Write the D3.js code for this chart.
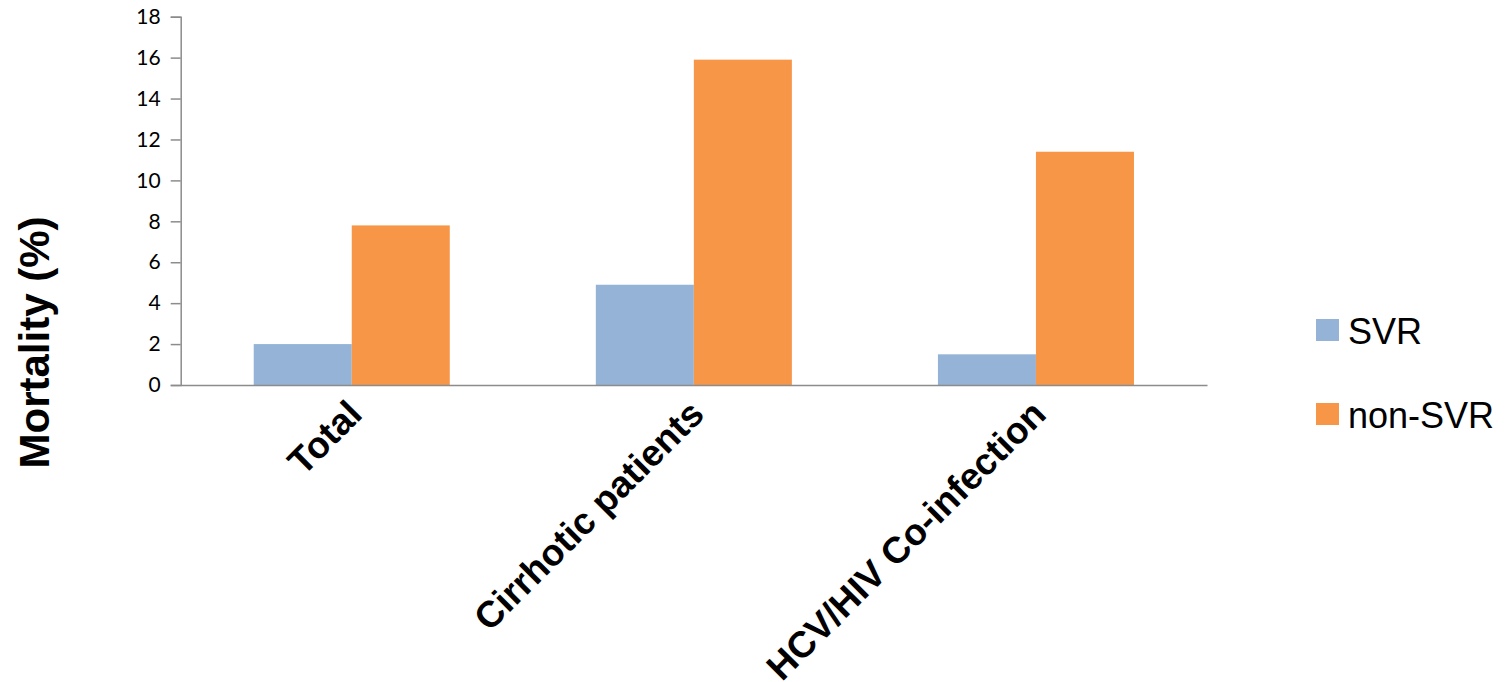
<!DOCTYPE html>
<html><head><meta charset="utf-8">
<script src="https://cdn.jsdelivr.net/npm/d3@7"></script>
<style>body{margin:0;background:#fff}svg{display:block}</style>
</head><body><svg id="c" width="1508" height="682"></svg>
<script>
const categories = ["Total", "Cirrhotic patients", "HCV/HIV Co-infection"];
const seriesNames = ["SVR", "non-SVR"];
const svrValues = [2.0, 4.9, 1.5];
const nonSvrValues = [7.8, 15.9, 11.4];
const yTicks = [0, 2, 4, 6, 8, 10, 12, 14, 16, 18];
const colors = ["#95b3d7", "#f79646"];

(function () {
const svg = d3.select("#c");
const pLeft = 180.7, pRight = 1207, pTop = 16.7, pBottom = 385;
const y = d3.scaleLinear().domain([0, 18]).range([pBottom, pTop]);
const x0 = d3.scaleBand().domain(categories).range([pLeft, pRight]).padding(0);
const x1 = d3.scaleBand().domain(seriesNames).range([0, x0.bandwidth()]).paddingInner(0).paddingOuter(0.745);

const data = categories.map((c, i) => ({cat: c, vals: [svrValues[i], nonSvrValues[i]]}));

const g = svg.append("g").selectAll("g").data(data).join("g")
  .attr("transform", d => `translate(${x0(d.cat)},0)`);
g.selectAll("rect").data(d => d.vals.map((v, j) => ({s: seriesNames[j], v, j})))
  .join("rect")
  .attr("x", d => x1(d.s)).attr("width", x1.bandwidth())
  .attr("y", d => y(d.v)).attr("height", d => y(0) - y(d.v))
  .attr("fill", d => colors[d.j]);

// y axis
const yAxis = d3.axisLeft(y).tickValues(yTicks).tickSize(10).tickPadding(10).tickFormat(d3.format("d"));
const ya = svg.append("g").attr("transform", `translate(${pLeft},0)`).call(yAxis);
ya.select(".domain").attr("stroke", "#8c8c8c").attr("stroke-width", 1.5);
ya.selectAll(".tick line").attr("stroke", "#8c8c8c").attr("stroke-width", 1.5);
ya.selectAll(".tick text").attr("font-family", "Lato, 'Open Sans', sans-serif").attr("font-size", 21).attr("fill", "#000");

// x axis
const xa = svg.append("g").attr("transform", `translate(0,${pBottom})`).call(d3.axisBottom(x0).tickSize(0).tickFormat(""));
xa.select(".domain").attr("stroke", "#8c8c8c").attr("stroke-width", 1.5);

svg.append("g").selectAll("text").data(categories).join("text")
  .attr("transform", d => `translate(${x0(d) + x0.bandwidth()/2 + 3},${pBottom + 22}) rotate(-45)`)
  .attr("text-anchor", "end").attr("dy", "0.35em")
  .attr("font-family", "'Liberation Sans', Arial, sans-serif").attr("font-weight", "bold")
  .attr("font-size", 37).attr("fill", "#000")
  .text(d => d);

// y title
svg.append("text").attr("transform", "translate(49,342.5) rotate(-90)")
  .attr("text-anchor", "middle")
  .attr("font-family", "'Liberation Sans', Arial, sans-serif").attr("font-weight", "bold")
  .attr("font-size", 42).attr("fill", "#000").text("Mortality (%)");

// legend
const lg = svg.append("g").selectAll("g").data(seriesNames).join("g")
  .attr("transform", (d, i) => `translate(1316,${319 + i * 84})`);
lg.append("rect").attr("width", 23).attr("height", 22).attr("fill", (d, i) => colors[i]);
lg.append("text").attr("x", 32).attr("y", 12).attr("dy", "0.36em")
  .attr("font-family", "'Liberation Sans', Arial, sans-serif").attr("font-size", 36).attr("fill", "#000")
  .text(d => d);
})();
</script></body></html>
